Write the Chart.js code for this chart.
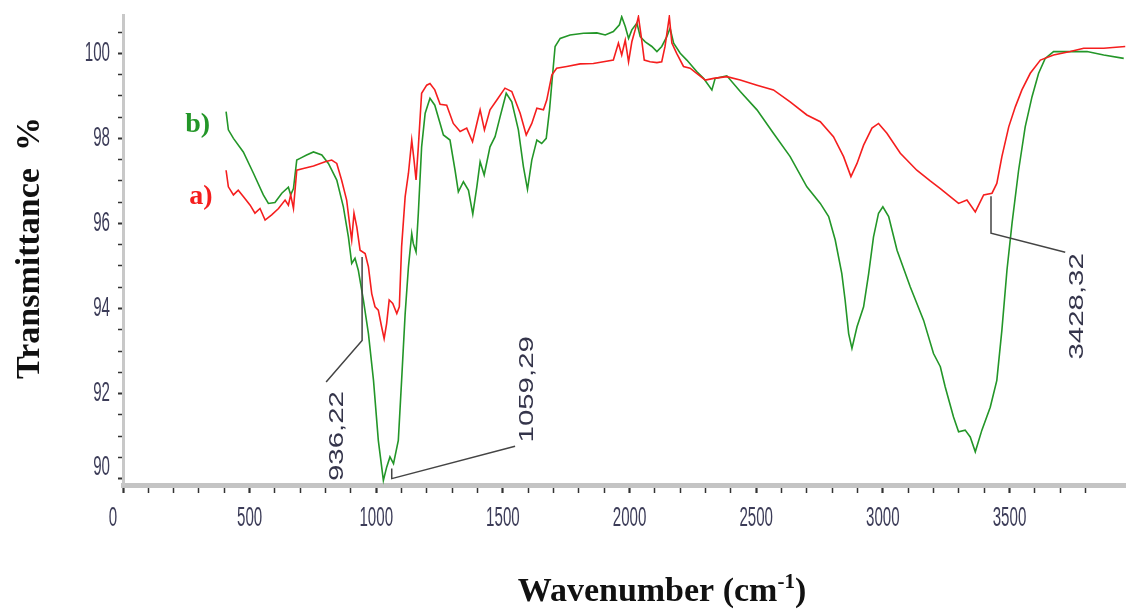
<!DOCTYPE html>
<html>
<head>
<meta charset="utf-8">
<title>Espectro FTIR</title>
<script src="https://cdn.jsdelivr.net/npm/chart.js@4.4.1/dist/chart.umd.min.js"></script>
<style>
  body { margin: 0; background: #fff; }
  #grafico { display: block; }
</style>
</head>
<body>
<canvas id="grafico" width="1126" height="609"></canvas>
<script>
// numero de onda (cm-1) y transmitancia (%) leidos de la figura
// curva a) roja
const ondaA = [407, 416, 436, 455, 475, 502, 521, 541, 561, 587, 614, 640, 653, 662, 673, 686, 712, 752, 798, 824,
  844, 863, 883, 896, 903, 912, 923, 936, 956, 969, 982, 995, 1008, 1021, 1031, 1041, 1051, 1065, 1081, 1091,
  1100, 1114, 1127, 1140, 1149, 1157, 1166, 1179, 1199, 1212, 1231, 1252, 1278, 1304, 1331, 1357, 1380, 1397, 1410, 1427,
  1449, 1476, 1508, 1535, 1568, 1592, 1614, 1634, 1660, 1673, 1693, 1712, 1752, 1805, 1857, 1897, 1936, 1956, 1969, 1983,
  1996, 2009, 2022, 2035, 2048, 2058, 2081, 2108, 2127, 2140, 2157, 2167, 2186, 2213, 2239, 2265, 2299, 2332, 2384, 2437,
  2503, 2568, 2634, 2700, 2753, 2805, 2845, 2874, 2898, 2924, 2957, 2983, 3016, 3069, 3134, 3187, 3227, 3266, 3299, 3332,
  3365, 3398, 3431, 3450, 3470, 3497, 3523, 3549, 3582, 3622, 3674, 3740, 3793, 3872, 3957];
const transA = [97.25, 96.86, 96.67, 96.78, 96.63, 96.43, 96.24, 96.35, 96.08, 96.20, 96.35, 96.55, 96.43, 96.67, 96.35, 97.25, 97.29, 97.35, 97.45, 97.49,
  97.41, 97.02, 96.55, 95.92, 95.61, 96.24, 95.92, 95.37, 95.29, 94.98, 94.35, 94.04, 93.96, 93.57, 93.29, 93.65, 94.20, 94.12, 93.88, 94.04,
  95.45, 96.63, 97.18, 97.96, 97.49, 97.02, 97.80, 99.06, 99.25, 99.29, 99.14, 98.80, 98.78, 98.35, 98.16, 98.24, 97.92, 98.35, 98.67, 98.20,
  98.67, 98.90, 99.18, 99.10, 98.59, 98.08, 98.35, 98.71, 98.67, 98.90, 99.49, 99.65, 99.69, 99.75, 99.76, 99.80, 99.84, 100.24, 99.96, 100.31,
  99.80, 100.27, 100.55, 100.86, 100.31, 99.84, 99.80, 99.78, 99.80, 100.16, 100.86, 100.24, 100.00, 99.69, 99.65, 99.53, 99.37, 99.41, 99.45, 99.37,
  99.25, 99.14, 98.86, 98.55, 98.39, 98.04, 97.57, 97.10, 97.41, 97.84, 98.24, 98.35, 98.12, 97.65, 97.25, 97.00, 96.82, 96.63, 96.47, 96.55,
  96.27, 96.67, 96.71, 96.94, 97.57, 98.27, 98.74, 99.14, 99.53, 99.84, 99.96, 100.04, 100.12, 100.12, 100.16];

// curva b) verde
const ondaB = [407, 416, 436, 475, 515, 554, 574, 600, 627, 653, 662, 673, 686, 699, 725, 752, 785, 811, 844, 870,
  890, 903, 916, 929, 949, 969, 989, 1008, 1028, 1041, 1054, 1068, 1087, 1100, 1114, 1127, 1140, 1146, 1157, 1166,
  1179, 1193, 1212, 1231, 1252, 1265, 1291, 1311, 1324, 1344, 1364, 1381, 1397, 1410, 1426, 1449, 1469, 1489, 1513, 1535,
  1561, 1581, 1597, 1614, 1634, 1653, 1671, 1684, 1693, 1706, 1726, 1765, 1818, 1871, 1904, 1936, 1960, 1969, 1983, 1996,
  2009, 2029, 2042, 2062, 2088, 2108, 2127, 2147, 2160, 2174, 2200, 2226, 2265, 2292, 2325, 2338, 2384, 2437, 2503, 2568,
  2634, 2700, 2753, 2786, 2812, 2838, 2851, 2865, 2878, 2898, 2924, 2944, 2963, 2983, 3000, 3023, 3056, 3108, 3161, 3200,
  3227, 3246, 3279, 3299, 3325, 3345, 3365, 3391, 3424, 3450, 3470, 3490, 3510, 3536, 3562, 3589, 3615, 3641, 3674, 3740,
  3806, 3872, 3951];
const transB = [98.63, 98.20, 98.00, 97.68, 97.18, 96.67, 96.47, 96.49, 96.71, 96.85, 96.67, 96.82, 97.49, 97.53, 97.61, 97.68, 97.61, 97.41, 97.02, 96.39,
  95.68, 95.06, 95.18, 94.90, 94.20, 93.41, 92.31, 90.90, 89.96, 90.27, 90.51, 90.35, 90.90, 92.31, 93.88, 94.98, 95.76, 95.53, 95.33, 96.24,
  97.80, 98.59, 98.94, 98.78, 98.35, 98.08, 97.96, 97.25, 96.74, 96.98, 96.78, 96.22, 96.86, 97.45, 97.14, 97.80, 98.04, 98.51, 99.06, 98.86,
  98.20, 97.33, 96.80, 97.49, 97.96, 97.88, 98.00, 98.67, 99.29, 100.16, 100.35, 100.43, 100.47, 100.48, 100.43, 100.51, 100.67, 100.86, 100.63, 100.35,
  100.55, 100.71, 100.39, 100.27, 100.16, 100.04, 100.16, 100.39, 100.59, 100.24, 100.00, 99.84, 99.57, 99.41, 99.14, 99.41, 99.47, 99.10, 98.67, 98.12,
  97.57, 96.86, 96.47, 96.16, 95.61, 94.82, 94.20, 93.41, 93.06, 93.57, 94.04, 94.82, 95.68, 96.24, 96.39, 96.16, 95.37, 94.51, 93.72, 92.94,
  92.63, 92.16, 91.45, 91.10, 91.14, 90.98, 90.63, 91.14, 91.68, 92.31, 93.49, 94.90, 96.00, 97.25, 98.27, 98.98, 99.53, 99.88, 100.04, 100.04,
  100.04, 99.96, 99.88];

const etiquetasX = [0, 500, 1000, 1500, 2000, 2500, 3000, 3500];
const etiquetasY = [90, 92, 94, 96, 98, 100];
const picos = ['936,22', '1059,29', '3428,32'];

// lineas guia de los picos (en unidades de los ejes)
const guias = [
  { texto: picos[0], linea: [[944, 95.21], [944, 93.25], [802, 92.27]], centro: [844, 91.0] },
  { texto: picos[1], linea: [[1061, 90.24], [1061, 90.0], [1548, 90.76]], centro: [1594, 92.1] },
  { texto: picos[2], linea: [[3427, 96.64], [3427, 95.77], [3720, 95.32]], centro: [3768, 94.05] }
];

const ROJO = 'rgb(245, 30, 30)';
const VERDE = 'rgb(35, 150, 40)';
const GRIS_TEXTO = '#3c3c58';

function puntos(xs, ys) {
  return xs.map((v, i) => ({ x: v, y: ys[i] }));
}

function esDe(lista, valor) {
  return lista.some(v => Math.abs(v - valor) < 1e-6);
}

// numeros de los ejes: letra estrecha y alta como en la figura
function numeroEstrecho(ctx, texto, px, py, alinear) {
  ctx.save();
  ctx.translate(px, py);
  ctx.scale(0.56, 1);
  ctx.textAlign = alinear;
  ctx.textBaseline = 'middle';
  ctx.fillText(texto, 0, 0);
  ctx.restore();
}

// textos, titulos y guias dibujados a mano sobre el canvas
const decoraciones = {
  id: 'decoraciones',
  afterDraw(chart) {
    const { ctx, scales: { x, y } } = chart;
    ctx.save();

    // etiquetas de los ejes
    ctx.fillStyle = GRIS_TEXTO;
    ctx.font = "27px 'Liberation Sans', sans-serif";
    etiquetasY.forEach(v => numeroEstrecho(ctx, String(v), 110, y.getPixelForValue(v) + (v === 90 ? -11 : 0), 'right'));
    etiquetasX.forEach(v => numeroEstrecho(ctx, String(v), x.getPixelForValue(v) + (v === 0 ? -10 : 0), 519, 'center'));

    // titulo eje Y
    ctx.fillStyle = '#111';
    ctx.font = "bold 34px 'Liberation Serif', serif";
    ctx.textAlign = 'center';
    ctx.textBaseline = 'middle';
    ctx.save();
    ctx.translate(30, 248);
    ctx.rotate(-Math.PI / 2);
    ctx.fillText('Transmittance  %', 0, 0);
    ctx.restore();

    // titulo eje X con superindice
    const base = 601;
    const parte1 = 'Wavenumber (cm';
    const sup = '-1';
    const parte3 = ')';
    ctx.font = "bold 34px 'Liberation Serif', serif";
    const w1 = ctx.measureText(parte1).width;
    const w3 = ctx.measureText(parte3).width;
    ctx.font = "bold 21px 'Liberation Serif', serif";
    const w2 = ctx.measureText(sup).width;
    let xx = 662 - (w1 + w2 + w3) / 2;
    ctx.textAlign = 'left';
    ctx.textBaseline = 'alphabetic';
    ctx.font = "bold 34px 'Liberation Serif', serif";
    ctx.fillText(parte1, xx, base);
    xx += w1;
    ctx.font = "bold 21px 'Liberation Serif', serif";
    ctx.fillText(sup, xx, base - 13);
    xx += w2;
    ctx.font = "bold 34px 'Liberation Serif', serif";
    ctx.fillText(parte3, xx, base);

    // etiquetas de las curvas
    ctx.font = "bold 28px 'Liberation Serif', serif";
    ctx.textAlign = 'center';
    ctx.textBaseline = 'middle';
    ctx.fillStyle = VERDE;
    ctx.fillText('b)', x.getPixelForValue(295), y.getPixelForValue(98.31));
    ctx.fillStyle = ROJO;
    ctx.fillText('a)', x.getPixelForValue(308), y.getPixelForValue(96.62));

    // guias de picos
    ctx.strokeStyle = '#444';
    ctx.lineWidth = 1.5;
    ctx.fillStyle = '#34344a';
    ctx.font = "21px 'Liberation Sans', sans-serif";
    guias.forEach(g => {
      ctx.beginPath();
      g.linea.forEach((p, i) => {
        const px = x.getPixelForValue(p[0]);
        const py = y.getPixelForValue(p[1]);
        if (i === 0) ctx.moveTo(px, py); else ctx.lineTo(px, py);
      });
      ctx.stroke();
      ctx.save();
      ctx.translate(x.getPixelForValue(g.centro[0]), y.getPixelForValue(g.centro[1]));
      ctx.rotate(-Math.PI / 2);
      ctx.scale(1.4, 1);
      ctx.fillText(g.texto, 0, 0);
      ctx.restore();
    });
    ctx.restore();
  }
};

const ctx1 = document.getElementById('grafico');

const espectro = new Chart(ctx1, {
  type: 'line',
  data: {
    datasets: [
      { label: 'a)', data: puntos(ondaA, transA), borderColor: ROJO, borderWidth: 1.6, pointRadius: 0, tension: 0 },
      { label: 'b)', data: puntos(ondaB, transB), borderColor: VERDE, borderWidth: 1.6, pointRadius: 0, tension: 0 }
    ]
  },
  options: {
    responsive: false,
    animation: false,
    layout: { padding: { top: 15, right: 0, left: 0, bottom: 0 } },
    plugins: {
      legend: { display: false },
      tooltip: { enabled: false }
    },
    scales: {
      x: {
        type: 'linear',
        min: 0,
        max: 3960,
        afterFit: s => { s.height = 124; },
        afterBuildTicks: s => { s.ticks = s.ticks.filter(t => Math.abs(t.value / 100 - Math.round(t.value / 100)) < 1e-6); },
        border: { display: true, color: '#c4c4c4', width: 5 },
        grid: {
          drawOnChartArea: false,
          tickLength: 8,
          tickColor: '#333',
          tickWidth: c => (esDe(etiquetasX, c.tick.value) ? 2.2 : 1.5)
        },
        ticks: { stepSize: 100, autoSkip: false, display: false }
      },
      y: {
        min: 89.85,
        max: 100.9,
        afterFit: s => { s.width = 123; },
        // marcas cada 0.5 entre 90 y 100.5
        afterBuildTicks: s => {
          const marcas = [];
          for (let k = 0; k <= 21; k++) marcas.push({ value: 90 + k * 0.5 });
          s.ticks = marcas;
        },
        border: { display: true, color: '#c8c8c8', width: 3 },
        grid: {
          drawOnChartArea: false,
          tickLength: 5,
          tickColor: '#333',
          tickWidth: c => (esDe(etiquetasY, c.tick.value) ? 2 : 1.5)
        },
        ticks: { autoSkip: false, display: false }
      }
    }
  },
  plugins: [decoraciones]
});
</script>
</body>
</html>
